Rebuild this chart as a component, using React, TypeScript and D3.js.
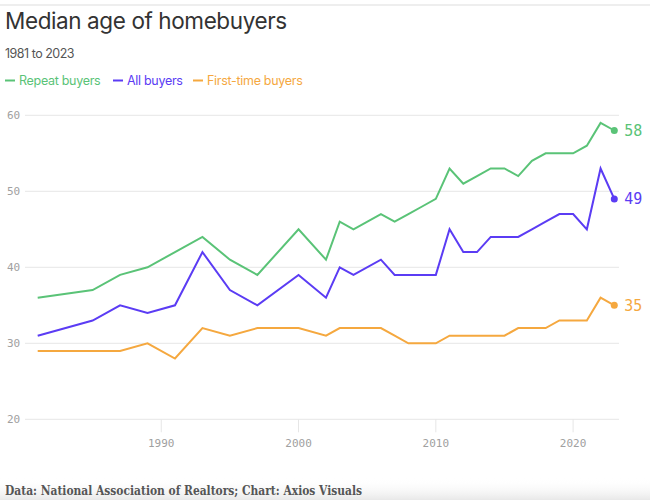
import React from "react";
import * as d3 from "d3";

const years = [1981, 1985, 1987, 1989, 1991, 1993, 1995, 1997, 2000, 2002, 2003, 2004, 2006, 2007, 2008, 2009, 2010, 2011, 2012, 2013, 2014, 2015, 2016, 2017, 2018, 2019, 2020, 2021, 2022, 2023];
const repeatBuyers = [36, 37, 39, 40, 42, 44, 41, 39, 45, 41, 46, 45, 47, 46, 47, 48, 49, 53, 51, 52, 53, 53, 52, 54, 55, 55, 55, 56, 59, 58];
const allBuyers = [31, 33, 35, 34, 35, 42, 37, 35, 39, 36, 40, 39, 41, 39, 39, 39, 39, 45, 42, 42, 44, 44, 44, 45, 46, 47, 47, 45, 53, 49];
const firstTimeBuyers = [29, 29, 29, 30, 28, 32, 31, 32, 32, 31, 32, 32, 32, 31, 30, 30, 30, 31, 31, 31, 31, 31, 32, 32, 32, 33, 33, 33, 36, 35];
const yTicks = [20, 30, 40, 50, 60];
const xTicks = [1990, 2000, 2010, 2020];
const seriesNames = ["Repeat buyers", "All buyers", "First-time buyers"];
const seriesColors = ["#5ac377", "#5b3cf4", "#f5a83f"];

const W = 650;
const H = 500;

export default function App() {
  const x = d3.scaleLinear().domain([1981, 2023]).range([37.7, 614.3]);
  const y = d3.scaleLinear().domain([20, 60]).range([419.3, 115.3]);
  const line = d3
    .line<[number, number]>()
    .x((d) => x(d[0]))
    .y((d) => y(d[1]));

  const series = [repeatBuyers, allBuyers, firstTimeBuyers].map((vals, i) => ({
    name: seriesNames[i],
    color: seriesColors[i],
    pts: years.map((yr, j) => [yr, vals[j]] as [number, number]),
  }));

  const legendX = [5, 113, 193];
  const mono = "'DejaVu Sans Mono', monospace";
  const sans = "Inter, 'Open Sans', sans-serif";

  return (
    <svg
      width={W}
      height={H}
      style={{ position: "absolute", left: 0, top: 0, background: "#fff" }}
    >
      <defs>
        <linearGradient id="foot" x1="0" y1="0" x2="0" y2="1">
          <stop offset="0" stopColor="#ffffff" stopOpacity="0" />
          <stop offset="1" stopColor="#e8e8e8" stopOpacity="1" />
        </linearGradient>
      </defs>
      <rect x={0} y={0} width={W} height={H} fill="#fff" />
      <rect x={0} y={478} width={W} height={22} fill="url(#foot)" />
      <line x1={0} x2={W} y1={5} y2={5} stroke="#eeeeee" strokeWidth={2} />

      <text x={5} y={29} fontFamily={sans} fontSize={22.5} fill="#333" letterSpacing={-0.4}>
        Median age of homebuyers
      </text>
      <text x={5} y={58} fontFamily={sans} fontSize={12.5} fill="#555" letterSpacing={-0.5}>
        1981 to 2023
      </text>

      {series.map((s, i) => (
        <g key={s.name}>
          <line
            x1={legendX[i]}
            x2={legendX[i] + 10}
            y1={80.5}
            y2={80.5}
            stroke={s.color}
            strokeWidth={2}
          />
          <text
            x={legendX[i] + 14}
            y={85}
            fontFamily={sans}
            fontSize={12.5}
            letterSpacing={-0.3}
            fill={s.color}
          >
            {s.name}
          </text>
        </g>
      ))}

      {yTicks.map((t) => (
        <g key={t}>
          <line x1={25} x2={619} y1={y(t)} y2={y(t)} stroke="#e6e6e6" strokeWidth={1} />
          <text
            x={7}
            y={y(t)}
            dy="0.35em"
            fontFamily={mono}
            fontSize={11}
            fill="#a0a0a0"
          >
            {t}
          </text>
        </g>
      ))}

      {xTicks.map((t) => (
        <g key={t}>
          <line x1={x(t)} x2={x(t)} y1={y(20)} y2={y(20) + 13} stroke="#e6e6e6" strokeWidth={1} />
          <text
            x={x(t)}
            y={447}
            textAnchor="middle"
            fontFamily={mono}
            fontSize={11}
            fill="#a0a0a0"
          >
            {t}
          </text>
        </g>
      ))}

      {series.map((s) => {
        const last = s.pts[s.pts.length - 1];
        return (
          <g key={s.name}>
            <path
              d={line(s.pts) || ""}
              fill="none"
              stroke={s.color}
              strokeWidth={2}
              strokeLinejoin="miter"
            />
            <circle cx={x(last[0])} cy={y(last[1])} r={3.5} fill={s.color} />
            <text
              x={x(last[0]) + 10}
              y={y(last[1])}
              dy="0.36em"
              fontFamily={mono}
              fontSize={15}
              fill={s.color}
            >
              {last[1]}
            </text>
          </g>
        );
      })}

      <text
        x={5}
        y={495}
        fontFamily="'DejaVu Serif', 'Liberation Serif', serif"
        fontSize={13}
        fontWeight="bold"
        fill="#555"
        textLength={357}
        lengthAdjust="spacingAndGlyphs"
      >
        Data: National Association of Realtors; Chart: Axios Visuals
      </text>
    </svg>
  );
}
